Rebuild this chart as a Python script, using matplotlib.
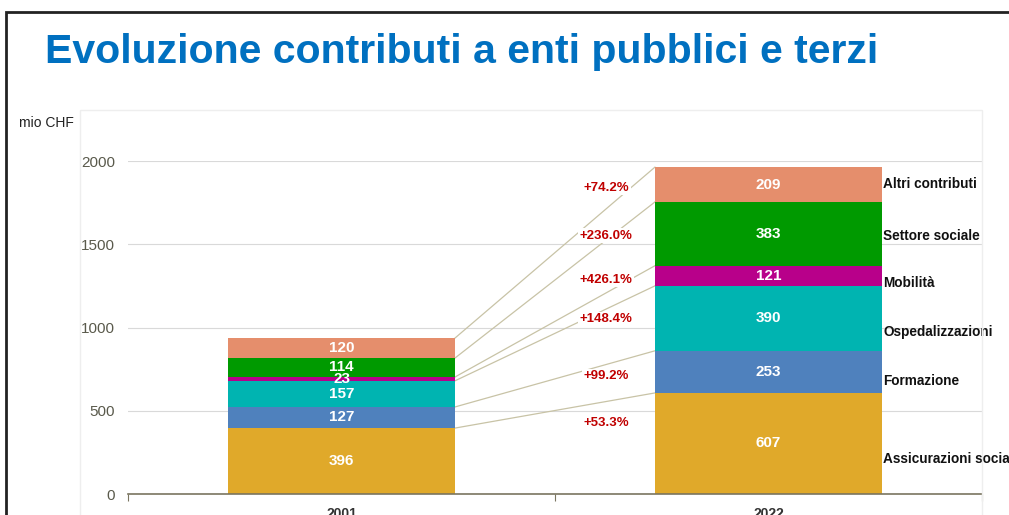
import matplotlib
matplotlib.use("Agg")
import matplotlib.pyplot as plt
from matplotlib.patches import Rectangle
import numpy as np

anni = ["2001", "2022"]
categorie = ["Assicurazioni sociali", "Formazione", "Ospedalizzazioni",
             "Mobilità", "Settore sociale", "Altri contributi"]
valori_2001 = [396, 127, 157, 23, 114, 120]
valori_2022 = [607, 253, 390, 121, 383, 209]
colori = ["#e0a92a", "#4f81bd", "#00b4b1", "#b8008a", "#009a00", "#e58e6c"]

# posizioni verticali delle etichette
y_percentuali = [426, 709, 1051, 1285, 1550, 1838]
y_categorie = [210, 679, 973, 1267, 1550, 1862]

plt.rcParams["font.family"] = ["Liberation Sans", "DejaVu Sans"]

fig = plt.figure(figsize=(10.09, 5.15), dpi=100)

# cornice della slide e area del grafico
fig.patches.append(Rectangle((6 / 1009, -0.1), 1.2, (515 - 12) / 515 + 0.1,
                             transform=fig.transFigure, fill=False,
                             edgecolor="#222222", linewidth=2))
fig.patches.append(Rectangle((80 / 1009, -0.1), (982 - 80) / 1009, (515 - 110) / 515 + 0.1,
                             transform=fig.transFigure, fill=False,
                             edgecolor="#eeeeee", linewidth=1))

fig.text(45 / 1009, 1 - 52 / 515, "Evoluzione contributi a enti pubblici e terzi",
         color="#0070c0", fontsize=29.5, fontweight="bold", va="center", ha="left")
fig.text(19 / 1009, 1 - 123 / 515, "mio CHF", fontsize=10, color="#222222",
         va="center", ha="left")

ax = fig.add_axes([128 / 1009, 21 / 515, 854 / 1009, 333 / 515])
ax.set_xlim(-0.5, 1.5)
ax.set_ylim(0, 2000)

x = np.arange(len(anni))
larghezza = 0.532
base = np.zeros(2)
for i, cat in enumerate(categorie):
    h = np.array([valori_2001[i], valori_2022[i]])
    ax.bar(x, h, larghezza, bottom=base, color=colori[i], zorder=3)
    for j in range(2):
        ax.text(x[j], base[j] + h[j] / 2, str(h[j]), color="white",
                fontsize=11, fontweight="bold", ha="center", va="center",
                family=["Liberation Sans Narrow", "Liberation Sans"], zorder=5)
    base = base + h

# linee di collegamento tra le due colonne
top_2001 = np.cumsum(valori_2001)
top_2022 = np.cumsum(valori_2022)
for a, b in zip(top_2001, top_2022):
    ax.plot([larghezza / 2, 1 - larghezza / 2], [a, b], color="#c8c3a6",
            linewidth=0.9, zorder=2)

# variazioni percentuali
for i in range(len(categorie)):
    var = (valori_2022[i] / valori_2001[i] - 1) * 100
    ax.text(0.62, y_percentuali[i], f"+{var:.1f}%", color="#c00000",
            fontsize=9.5, fontweight="bold", ha="center", va="center", zorder=4,
            bbox=dict(facecolor="white", edgecolor="none", pad=1))

# etichette delle categorie
for i, cat in enumerate(categorie):
    ax.text(1 + larghezza / 2 + 0.003, y_categorie[i], cat, color="#111111",
            fontsize=9.8, fontweight="bold", ha="left", va="center", clip_on=False)

ax.set_yticks([0, 500, 1000, 1500, 2000])
ax.grid(axis="y", color="#d9d9d9", linewidth=0.8, zorder=0)
ax.set_xticks([-0.5, 0.5, 1.5])
ax.set_xticklabels([])
ax.set_xticks(x, minor=True)
ax.set_xticklabels(anni, minor=True, fontweight="bold")
ax.tick_params(axis="x", which="major", length=5, color="#7a7560")
ax.tick_params(axis="x", which="minor", length=0, pad=9, labelsize=10,
               labelcolor="#333333")
ax.tick_params(axis="y", length=0, pad=9.5, labelsize=11, labelcolor="#5a5a4c")
for s in ["top", "right", "left"]:
    ax.spines[s].set_visible(False)
ax.spines["bottom"].set_color("#7a7560")
ax.spines["bottom"].set_linewidth(1.2)
ax.spines["bottom"].set_zorder(4)

fig.savefig("out.png", dpi=100)
